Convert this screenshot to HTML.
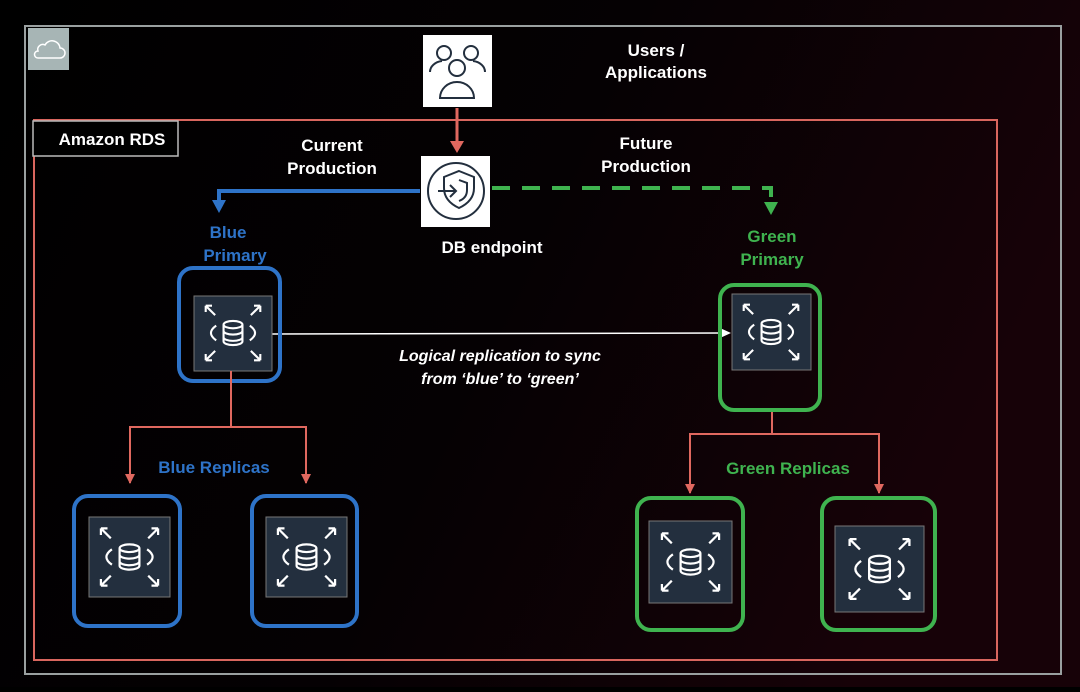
<!DOCTYPE html>
<html><head><meta charset="utf-8"><style>
html,body{margin:0;padding:0;background:#000;}
body{width:1080px;height:687px;overflow:hidden;}
text{font-family:"Liberation Sans",sans-serif;font-weight:bold;}
</style></head><body>
<svg width="1080" height="687" viewBox="0 0 1080 687" xmlns="http://www.w3.org/2000/svg">
<defs>
<linearGradient id="bg" x1="0" y1="0" x2="1" y2="0.3">
<stop offset="0" stop-color="#000"/><stop offset="0.55" stop-color="#050103"/><stop offset="1" stop-color="#170208"/>
</linearGradient>
<g id="db">
<path d="M-26 -26 l9 9 M-26 -26 h6 M-26 -26 v6 M26 -26 l-9 9 M26 -26 h-6 M26 -26 v6 M-26 26 l9 -9 M-26 26 h6 M-26 26 v-6 M26 26 l-9 -9 M26 26 h-6 M26 26 v-6" stroke="#fff" stroke-width="2" fill="none"/>
<path d="M-16 -7 q-10 7 0 14 M16 -7 q10 7 0 14" stroke="#fff" stroke-width="2" fill="none"/>
<ellipse cx="0" cy="-8" rx="9" ry="3.5" stroke="#fff" stroke-width="2" fill="none"/>
<path d="M-9 -8 v16 a9 3.5 0 0 0 18 0 v-16 M-9 -2 a9 3.5 0 0 0 18 0 M-9 4 a9 3.5 0 0 0 18 0" stroke="#fff" stroke-width="2" fill="none"/>
</g>
</defs>
<rect width="1080" height="687" fill="url(#bg)"/>
<rect x="25" y="26" width="1036" height="648" fill="none" stroke="#9aa0a0" stroke-width="2"/>
<rect x="28" y="28" width="41" height="42" fill="#a7b5b5"/>
<path d="M38 58 h22 a5 5 0 0 0 0 -10 a8 8 0 0 0 -15 -3 a5 5 0 0 0 -7 6 a3.5 3.5 0 0 0 0 7z" fill="none" stroke="#fff" stroke-width="1.5"/>
<rect x="34" y="120" width="963" height="540" fill="none" stroke="#d9665e" stroke-width="2"/>
<rect x="33" y="121" width="145" height="35" fill="#000" stroke="#bbb" stroke-width="1.5"/>
<text x="112" y="145" fill="#fff" font-size="17" text-anchor="middle">Amazon RDS</text>
<!-- users -->
<rect x="423" y="35" width="69" height="72" fill="#fff"/>
<g fill="none" stroke="#232f3e" stroke-width="2">
<circle cx="444" cy="53" r="7"/><circle cx="471" cy="53" r="7"/>
<path d="M430 72 a14 11 0 0 1 12 -11 M485 72 a14 11 0 0 0 -12 -11"/>
<circle cx="457" cy="68" r="8"/>
<path d="M440 98 a17 16 0 0 1 34 0z"/>
</g>
<text x="656" y="56" fill="#fff" font-size="17" text-anchor="middle">Users /</text>
<text x="656" y="78" fill="#fff" font-size="17" text-anchor="middle">Applications</text>
<!-- red arrow -->
<line x1="457" y1="108" x2="457" y2="142" stroke="#e0685f" stroke-width="3"/>
<path d="M450 141 h14 l-7 12z" fill="#e0685f"/>
<!-- endpoint -->
<rect x="421" y="156" width="69" height="71" fill="#fff"/>
<circle cx="456" cy="191" r="28" fill="none" stroke="#232f3e" stroke-width="2"/>
<path d="M459 171 l15 6 v11 q0 13 -15 20 q-15 -7 -15 -20 v-11z" fill="none" stroke="#232f3e" stroke-width="2"/>
<path d="M438 191 h17 M450 185 l6 6 l-6 6 M459 180 l8 3 v7 q0 8 -8 11" fill="none" stroke="#232f3e" stroke-width="2"/>
<text x="492" y="253" fill="#fff" font-size="17" text-anchor="middle">DB endpoint</text>
<text x="332" y="151" fill="#fff" font-size="17" text-anchor="middle">Current</text>
<text x="332" y="174" fill="#fff" font-size="17" text-anchor="middle">Production</text>
<text x="646" y="149" fill="#fff" font-size="17" text-anchor="middle">Future</text>
<text x="646" y="172" fill="#fff" font-size="17" text-anchor="middle">Production</text>
<!-- blue path -->
<path d="M420 191 H219 V202" fill="none" stroke="#2e73c8" stroke-width="4"/>
<path d="M212 200 h14 l-7 13z" fill="#2e73c8"/>
<!-- green dashed -->
<path d="M492 188 H771 V204" fill="none" stroke="#3fb34f" stroke-width="4" stroke-dasharray="18 12"/>
<path d="M764 202 h14 l-7 13z" fill="#3fb34f"/>
<text x="228" y="238" fill="#2e73c8" font-size="17" text-anchor="middle">Blue</text>
<text x="235" y="261" fill="#2e73c8" font-size="17" text-anchor="middle">Primary</text>
<text x="772" y="242" fill="#3fb34f" font-size="17" text-anchor="middle">Green</text>
<text x="772" y="265" fill="#3fb34f" font-size="17" text-anchor="middle">Primary</text>
<!-- replication -->
<line x1="272" y1="334" x2="724" y2="333" stroke="#fff" stroke-width="1.5"/>
<path d="M720 328 l11 5 l-11 5z" fill="#fff"/>
<text x="500" y="361" fill="#fff" font-size="16" text-anchor="middle" font-style="italic">Logical replication to sync</text>
<text x="500" y="384" fill="#fff" font-size="16" text-anchor="middle" font-style="italic">from ‘blue’ to ‘green’</text>
<!-- blue primary -->
<rect x="179" y="268" width="101" height="113" rx="14" fill="none" stroke="#2e73c8" stroke-width="4"/>
<rect x="194" y="296" width="78" height="75" fill="#232f3e" stroke="#777" stroke-width="1"/>
<use href="#db" transform="translate(233,333) scale(1.05)"/>
<!-- green primary -->
<rect x="720" y="285" width="100" height="125" rx="14" fill="none" stroke="#3fb34f" stroke-width="4"/>
<rect x="732" y="294" width="79" height="76" fill="#232f3e" stroke="#777" stroke-width="1"/>
<use href="#db" transform="translate(771,332) scale(1.05)"/>
<!-- blue replica connectors -->
<path d="M231 371 V427 M130 483 V427 H306 V483" fill="none" stroke="#e0685f" stroke-width="2"/>
<path d="M125 474 h10 l-5 10z M301 474 h10 l-5 10z" fill="#e0685f"/>
<text x="214" y="473" fill="#2e73c8" font-size="17" text-anchor="middle">Blue Replicas</text>
<!-- green replica connectors -->
<path d="M772 412 V434 M690 493 V434 H879 V493" fill="none" stroke="#e0685f" stroke-width="2"/>
<path d="M685 484 h10 l-5 10z M874 484 h10 l-5 10z" fill="#e0685f"/>
<text x="788" y="474" fill="#3fb34f" font-size="17" text-anchor="middle">Green Replicas</text>
<!-- blue replicas -->
<rect x="74" y="496" width="106" height="130" rx="14" fill="none" stroke="#2e73c8" stroke-width="4"/>
<rect x="89" y="517" width="81" height="80" fill="#232f3e" stroke="#777" stroke-width="1"/>
<use href="#db" transform="translate(129.5,557) scale(1.1)"/>
<rect x="252" y="496" width="105" height="130" rx="14" fill="none" stroke="#2e73c8" stroke-width="4"/>
<rect x="266" y="517" width="81" height="80" fill="#232f3e" stroke="#777" stroke-width="1"/>
<use href="#db" transform="translate(306.5,557) scale(1.1)"/>
<!-- green replicas -->
<rect x="637" y="498" width="106" height="132" rx="14" fill="none" stroke="#3fb34f" stroke-width="4"/>
<rect x="649" y="521" width="83" height="82" fill="#232f3e" stroke="#777" stroke-width="1"/>
<use href="#db" transform="translate(690.5,562) scale(1.1)"/>
<rect x="822" y="498" width="113" height="132" rx="14" fill="none" stroke="#3fb34f" stroke-width="4"/>
<rect x="835" y="526" width="89" height="86" fill="#232f3e" stroke="#777" stroke-width="1"/>
<use href="#db" transform="translate(879.5,569) scale(1.15)"/>
</svg>
</body></html>
